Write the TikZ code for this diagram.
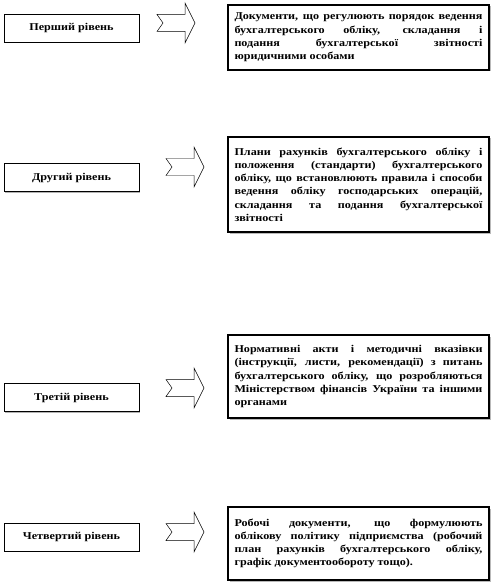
\documentclass[tikz,border=0pt]{standalone}
\usepackage{fontspec}
\setmainfont{Liberation Serif}[FakeStretch=1.16]
\usetikzlibrary{shadows}
\tolerance=10000
\hbadness=10000

\tikzset{pics/blockarrow/.style={code={
	\draw[fill=white,line width=0.5pt] (0,-8.5)--(28,-8.5)--(28,-20)--(38,0)--(28,20)--(28,8.5)--(0,8.5)--(6,0)--cycle;}}}

\begin{document}
\begin{tikzpicture}[x=1bp, y=-1bp,
		levelbox/.style={draw, line width=0.8pt, fill=white, minimum width=135bp, minimum height=28bp, inner sep=0pt,
			font=\fontsize{10.5}{12}\selectfont\bfseries,
			drop shadow={shadow xshift=1.3bp, shadow yshift=-1.3bp, fill=gray!60, opacity=1}},
		docbox/.style={draw, line width=1.4pt, fill=white, text width=248bp, inner xsep=6.5bp, inner ysep=4bp,
			align=justify, font=\fontsize{10.5}{13.3}\selectfont\bfseries,
			drop shadow={shadow xshift=1.5bp, shadow yshift=-1.5bp, fill=gray!55, opacity=1}}]
		\useasboundingbox (0,0) rectangle (495,585);
		% left column: levels
		\node[levelbox] (lvl1) at (71.5, 28) {Перший рівень};
		\node[levelbox] (lvl2) at (71.5, 177.5) {Другий рівень};
		\node[levelbox] (lvl3) at (71.5, 397.5) {Третій рівень};
		\node[levelbox] (lvl4) at (71.5, 537) {Четвертий рівень};
		% block arrows
		\coordinate (arr1) at (157, 23);
		\coordinate (arr2) at (166, 167);
		\coordinate (arr3) at (166, 388);
		\coordinate (arr4) at (166, 532);
		\pic at (arr1) {blockarrow};
		\pic at (arr2) {blockarrow};
		\pic at (arr3) {blockarrow};
		\pic at (arr4) {blockarrow};
		% right column: documents
		\node[docbox, minimum height=65bp] (doc1) at (358.5, 37.5) {Документи, що регулюють порядок ведення\linebreak бухгалтерського обліку, складання і\linebreak подання бухгалтерської звітності\linebreak юридичними особами};
		\node[docbox, minimum height=95bp] (doc2) at (358.5, 184.5) {Плани рахунків бухгалтерського обліку і\linebreak положення (стандарти) бухгалтерського\linebreak обліку, що встановлюють правила і способи\linebreak ведення обліку господарських операцій,\linebreak складання та подання бухгалтерської\linebreak звітності};
		\node[docbox, minimum height=83bp] (doc3) at (358.5, 376.5) {Нормативні акти і методичні вказівки\linebreak (інструкції, листи, рекомендації) з питань\linebreak бухгалтерського обліку, що розробляються\linebreak Міністерством фінансів України та іншими\linebreak органами};
		\node[docbox, minimum height=73bp] (doc4) at (358.5, 543.5) {Робочі документи, що формулюють\linebreak облікову політику підприємства (робочий\linebreak план рахунків бухгалтерського обліку,\linebreak графік документообороту тощо).};
	\end{tikzpicture}
\end{document}
